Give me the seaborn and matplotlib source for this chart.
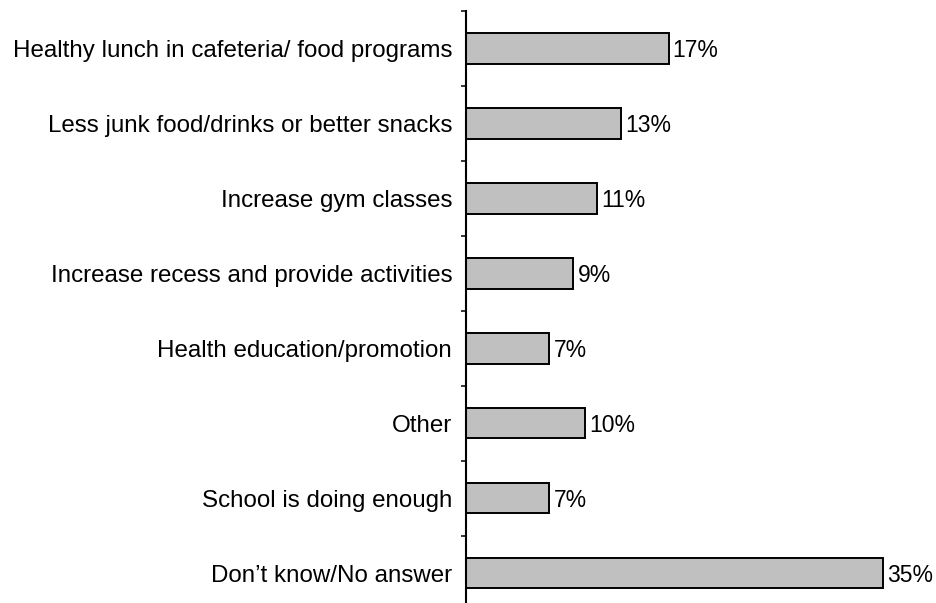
import matplotlib
matplotlib.use("Agg")
import matplotlib.pyplot as plt
from matplotlib.ticker import FixedLocator
import seaborn as sns
import pandas as pd

categories = [
    "Healthy lunch in cafeteria/ food programs",
    "Less junk food/drinks or better snacks",
    "Increase gym classes",
    "Increase recess and provide activities",
    "Health education/promotion",
    "Other",
    "School is doing enough",
    "Don\u2019t know/No answer",
]
values = [17, 13, 11, 9, 7, 10, 7, 35]
value_labels = ["17%", "13%", "11%", "9%", "7%", "10%", "7%", "35%"]

sns.set_style("white")
plt.rcParams["font.family"] = ["Liberation Sans", "DejaVu Sans"]
plt.rcParams["text.color"] = "black"
plt.rcParams["ytick.color"] = "black"
plt.rcParams["ytick.labelcolor"] = "black"

df = pd.DataFrame({"category": categories, "value": values})

fig = plt.figure(figsize=(9.36, 6.03), dpi=100)
ax = fig.add_axes([0.4979, -0.0124, 0.4964, 0.9942])

sns.barplot(data=df, x="value", y="category", orient="h", color="#c0c0c0",
            saturation=1, edgecolor="black", linewidth=1.4, width=0.41, ax=ax)

ax.set_xlim(0, 39)
ax.set_ylim(len(categories) - 0.5, -0.5)
ax.set_xlabel("")
ax.set_ylabel("")
ax.set_xticks([])

for spine in ["top", "right", "bottom"]:
    ax.spines[spine].set_visible(False)
ax.spines["left"].set_linewidth(1.5)
ax.spines["left"].set_color("black")

ax.tick_params(axis="y", which="major", left=False, length=0, pad=10,
               labelsize=17.4, labelcolor="black")
ax.yaxis.set_minor_locator(FixedLocator([i - 0.5 for i in range(len(categories) + 1)]))
ax.tick_params(axis="y", which="minor", left=True, length=3.8, width=1.1,
               direction="out", color="black")

for i, (v, lab) in enumerate(zip(values, value_labels)):
    ax.annotate(lab, xy=(v, i), xytext=(3, 0), textcoords="offset points",
                ha="left", va="center_baseline", fontsize=16.5, color="black")

fig.savefig("out.png", dpi=100)
